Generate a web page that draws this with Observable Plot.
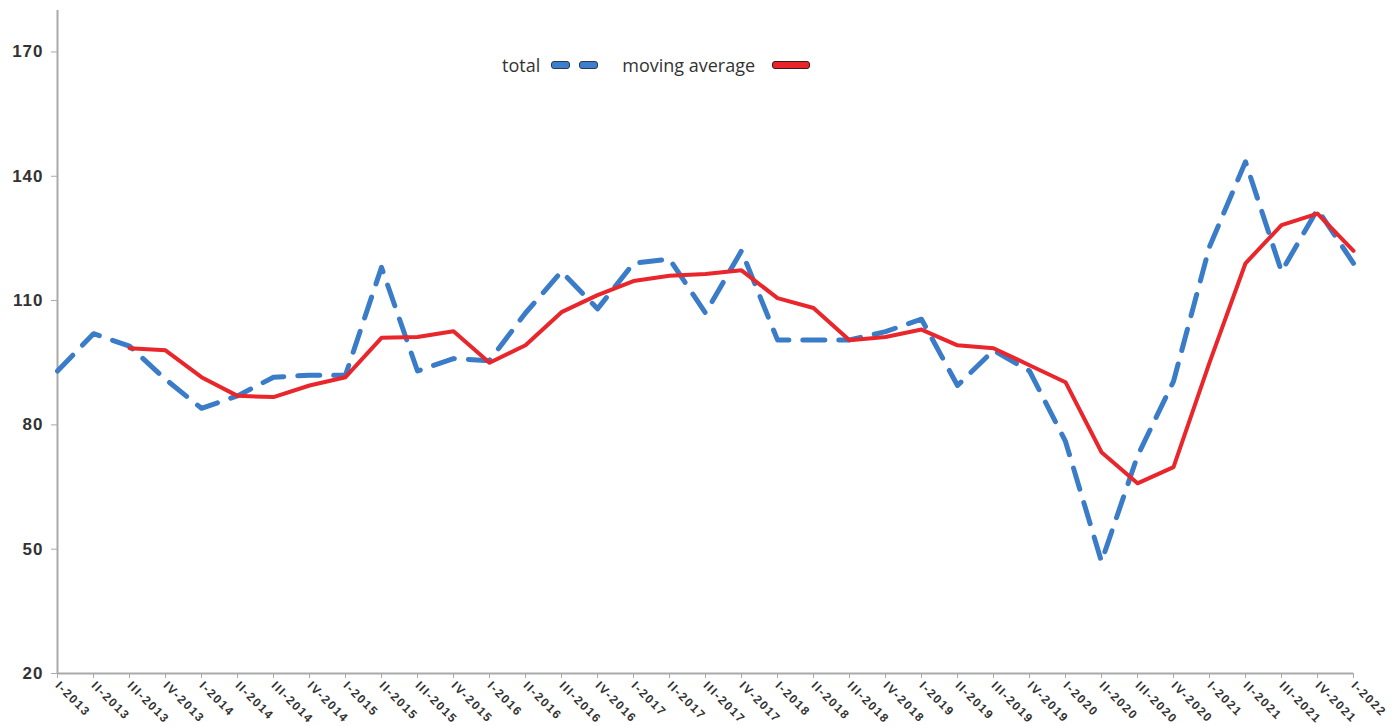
<!DOCTYPE html>
<html><head><meta charset="utf-8">
<script src="https://cdn.jsdelivr.net/npm/d3@7"></script>
<script src="https://cdn.jsdelivr.net/npm/@observablehq/plot@0.6"></script>
<style>
body{margin:0;background:#fff;}
#wrap{position:relative;width:1399px;height:726px;}
#legend{position:absolute;left:502px;top:53px;font-family:"Open Sans",sans-serif;font-size:18px;color:#333;display:flex;align-items:center;white-space:nowrap;}
.ib{display:inline-block;height:6px;border:1.5px solid #2b3a4e;border-radius:3px;}
.blue{background:#3d7fcc;width:17px;}
.red{background:#e8262a;width:36px;margin-left:17px;border-color:#3a1a1a;}
g[aria-label="x-axis tick label"] text{letter-spacing:1.6px;font-weight:bold;}
g[aria-label="y-axis tick label"] text{letter-spacing:1px;font-weight:bold;}
</style></head><body>
<div id="wrap">
<div id="legend"><span>total</span><span class="ib blue" style="margin-left:11px"></span><span class="ib blue" style="margin-left:9px"></span><span style="margin-left:24px">moving average</span><span class="ib red"></span></div>
</div>
<script>
const quarters = ["I-2013","II-2013","III-2013","IV-2013","I-2014","II-2014","III-2014","IV-2014","I-2015","II-2015","III-2015","IV-2015","I-2016","II-2016","III-2016","IV-2016","I-2017","II-2017","III-2017","IV-2017","I-2018","II-2018","III-2018","IV-2018","I-2019","II-2019","III-2019","IV-2019","I-2020","II-2020","III-2020","IV-2020","I-2021","II-2021","III-2021","IV-2021","I-2022"];
const total = [93,102,99,91,84,87,91.5,92,92,118,93,96,95.5,107,117,108,119,120,107,122,100.5,100.5,100.5,102.5,105.5,89.5,98,93,76,47,72.5,90.5,123,143.5,117,132,119];
const movingAverage = [null,null,98.5,98,91.5,87,86.7,89.5,91.5,101,101.2,102.6,95,99.2,107.2,111.3,114.7,116,116.4,117.3,110.6,108.2,100.4,101.2,103,99.2,98.5,94.4,90.3,73.4,65.9,69.8,95,119,128.2,131,122];
const yTicks = [20,50,80,110,140,170];

const rows = quarters.map((q,i)=>({q, total: total[i], ma: movingAverage[i]}));
const chart = Plot.plot({
  width:1399, height:726, marginLeft:57, marginRight:46, marginTop:10, marginBottom:53,
  x:{type:"point", domain: quarters, padding:0},
  y:{domain:[20,180]},
  style:{fontFamily:"Arial, 'Liberation Sans', sans-serif", background:"#fff", overflow:"visible"},
  marks:[
    Plot.ruleY([20], {stroke:"#aaa", strokeWidth:2}),
    Plot.ruleX([quarters[0]], {y1:20, y2:180, stroke:"#aaa", strokeWidth:2}),
    Plot.axisY({ticks:yTicks, tickSize:6, tickPadding:8, stroke:"#aaa", fill:"#333", fontSize:17, label:null}),
    Plot.axisX({tickSize:5, tickRotate:45, tickPadding:5, stroke:"#aaa", fill:"#333", fontSize:12, label:null}),
    Plot.line(rows, {x:"q", y:"total", stroke:"#3a7cc7", strokeWidth:5, strokeDasharray:"22,14", strokeLinecap:"round"}),
    Plot.line(rows.filter(d=>d.ma!=null), {x:"q", y:"ma", stroke:"#e9262b", strokeWidth:4})
  ]
});
document.getElementById("wrap").prepend(chart);
</script>
</body></html>
